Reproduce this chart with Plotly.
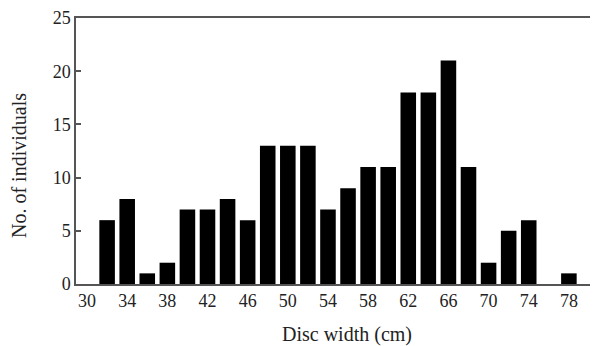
import plotly.graph_objects as go

disc_width = [32, 34, 36, 38, 40, 42, 44, 46, 48, 50, 52, 54, 56, 58, 60,
              62, 64, 66, 68, 70, 72, 74, 76, 78]
individuals = [6, 8, 1, 2, 7, 7, 8, 6, 13, 13, 13, 7, 9, 11, 11,
               18, 18, 21, 11, 2, 5, 6, 0, 1]
x_ticks = [30, 34, 38, 42, 46, 50, 54, 58, 62, 66, 70, 74, 78]
y_ticks = [0, 5, 10, 15, 20, 25]

fig = go.Figure(go.Bar(x=disc_width, y=individuals, width=1.55,
                       marker=dict(color="black", line=dict(width=0))))

font = "Liberation Serif, Times New Roman, serif"
axis_col = "#555555"
# page body has an 8px margin, so the figure is sized 8px smaller
fig.update_layout(
    width=590, height=338,
    margin=dict(l=68, r=0, t=10, b=62),
    paper_bgcolor="white", plot_bgcolor="white",
    font=dict(family=font, size=18, color="#222"),
    showlegend=False,
    xaxis=dict(range=[28.9, 80.9], tickvals=x_ticks, ticks="",
               showline=True, linecolor=axis_col, linewidth=1.5, mirror=True,
               showgrid=False, zeroline=False, automargin=False,
               tickfont=dict(size=18)),
    yaxis=dict(range=[0, 25], tickvals=y_ticks, ticks="inside", ticklen=5,
               tickcolor=axis_col, tickwidth=1.5,
               showline=True, linecolor=axis_col, linewidth=1.5,
               showgrid=False, zeroline=False, automargin=False,
               tickfont=dict(size=18)),
    annotations=[
        dict(text="Disc width (cm)", xref="paper", yref="paper",
             x=0.519, y=-0.19, xanchor="center", yanchor="middle",
             showarrow=False, font=dict(size=20)),
        dict(text="No. of individuals", xref="paper", yref="paper",
             x=-0.108, y=0.446, xanchor="center", yanchor="middle",
             textangle=-90, showarrow=False, font=dict(size=20)),
    ],
)

fig.write_html("out.html")
